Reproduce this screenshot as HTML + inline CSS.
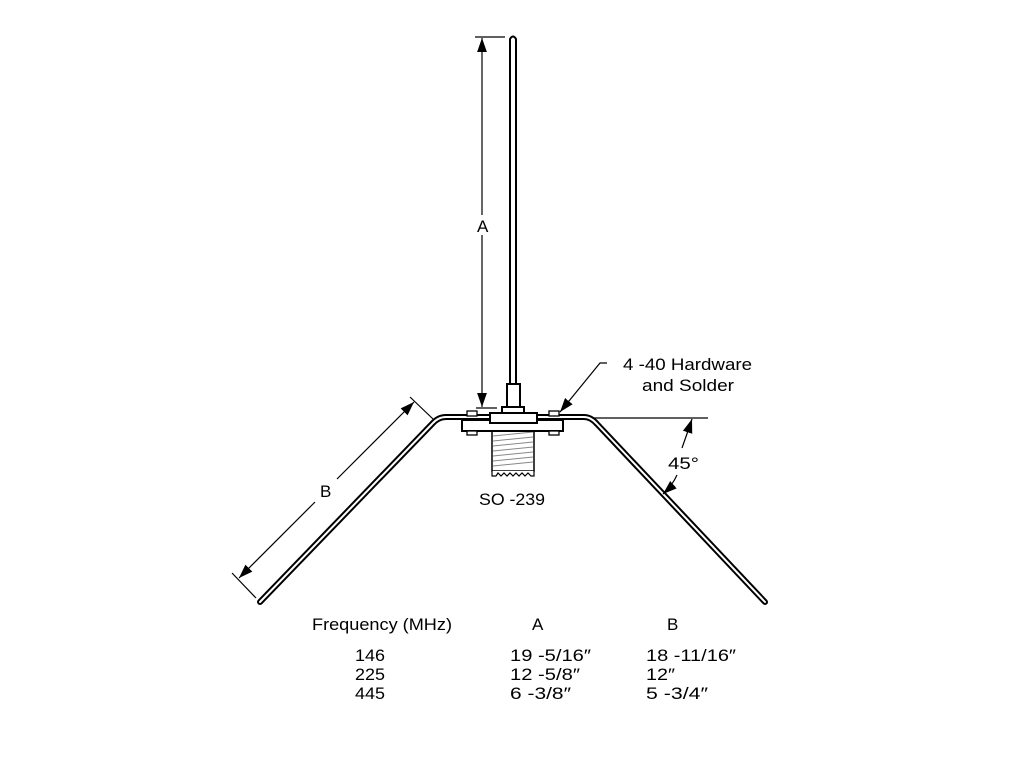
<!DOCTYPE html>
<html><head><style>html,body{margin:0;padding:0;background:#fff}svg{display:block}text{font-family:"Liberation Sans",sans-serif;font-size:17px;fill:#000}</style></head>
<body>
<svg width="1024" height="768" viewBox="0 0 1024 768" xmlns="http://www.w3.org/2000/svg">
<defs>
<marker id="ar" viewBox="0 0 10 10" refX="10" refY="5" markerWidth="14" markerHeight="14" markerUnits="userSpaceOnUse" orient="auto"><path d="M0,1.5 L10,5 L0,8.5 Z" fill="#000"/></marker>
</defs>
<path d="M510,386 L510,39 Q513,34 516,39 L516,386" fill="#fff" stroke="#000" stroke-width="2"/>
<rect x="507" y="384" width="13" height="23" fill="#fff" stroke="#000" stroke-width="2"/>
<rect x="502" y="407" width="22" height="6" fill="#fff" stroke="#000" stroke-width="2"/>
<rect x="492" y="431" width="42" height="40" fill="#fff" stroke="#000" stroke-width="1.5"/>
<g stroke="#888" stroke-width="1">
<line x1="493" y1="436" x2="533" y2="432"/><line x1="493" y1="441" x2="533" y2="437"/><line x1="493" y1="446" x2="533" y2="442"/><line x1="493" y1="451" x2="533" y2="447"/><line x1="493" y1="456" x2="533" y2="452"/><line x1="493" y1="461" x2="533" y2="457"/><line x1="493" y1="466" x2="533" y2="462"/>
</g>
<path d="M492,471 L492,476 L496,476 L498,473 L501,476 L504,473 L507,476 L510,473 L513,476 L516,473 L519,476 L522,473 L525,476 L528,473 L531,476 L534,476 L534,471" fill="#fff" stroke="#000" stroke-width="1.2"/>
<g fill="none" stroke-linecap="round" stroke-linejoin="round">
<path d="M260,602 L432,424 Q438,417 446,417 L490,417" stroke="#000" stroke-width="6"/>
<path d="M260,602 L432,424 Q438,417 446,417 L490,417" stroke="#fff" stroke-width="2"/>
<path d="M537,417 L584,417 Q591,417 597,424 L765,602" stroke="#000" stroke-width="6"/>
<path d="M537,417 L584,417 Q591,417 597,424 L765,602" stroke="#fff" stroke-width="2"/>
</g>
<rect x="462" y="420" width="101" height="11" fill="#fff" stroke="#000" stroke-width="2"/>
<rect x="490" y="413" width="47" height="10" fill="#fff" stroke="#000" stroke-width="2"/>
<rect x="467" y="411" width="10" height="5" fill="#fff" stroke="#000" stroke-width="1.3"/>
<rect x="549" y="411" width="10" height="5" fill="#fff" stroke="#000" stroke-width="1.3"/>
<rect x="467" y="431" width="10" height="4" fill="#fff" stroke="#000" stroke-width="1.3"/>
<rect x="549" y="431" width="10" height="4" fill="#fff" stroke="#000" stroke-width="1.3"/>
<g stroke="#000" stroke-width="1.2" fill="none">
<line x1="475" y1="37" x2="505" y2="37"/>
<line x1="476" y1="408" x2="497" y2="408"/>
<line x1="482" y1="215" x2="482" y2="38" marker-end="url(#ar)"/>
<line x1="482" y1="235" x2="482" y2="407" marker-end="url(#ar)"/>
<line x1="232" y1="573" x2="256" y2="598"/>
<line x1="410" y1="397" x2="433" y2="419"/>
<line x1="315" y1="502" x2="239" y2="578" marker-end="url(#ar)"/>
<line x1="337" y1="479" x2="414" y2="402" marker-end="url(#ar)"/>
<polyline points="607,363 600,363 560,412" marker-end="url(#ar)"/>
<line x1="592" y1="418" x2="708" y2="418"/>
<path d="M682,448 Q687,434 692,419" marker-end="url(#ar)"/>
<path d="M677,475 Q672,486 663,494" marker-end="url(#ar)"/>
</g>
<text x="477" y="232">A</text>
<text x="320" y="497">B</text>
<text x="623" y="370" textLength="129" lengthAdjust="spacingAndGlyphs">4 -40 Hardware</text>
<text x="642" y="391" textLength="92" lengthAdjust="spacingAndGlyphs">and Solder</text>
<text x="668" y="469" textLength="31" lengthAdjust="spacingAndGlyphs">45°</text>
<text x="479" y="505" textLength="66" lengthAdjust="spacingAndGlyphs">SO -239</text>
<text x="312" y="630" textLength="140" lengthAdjust="spacingAndGlyphs">Frequency (MHz)</text>
<text x="532" y="630">A</text>
<text x="667" y="630">B</text>
<text x="355" y="661" textLength="30" lengthAdjust="spacingAndGlyphs">146</text>
<text x="355" y="680" textLength="30" lengthAdjust="spacingAndGlyphs">225</text>
<text x="355" y="699" textLength="30" lengthAdjust="spacingAndGlyphs">445</text>
<text x="510" y="661" textLength="81" lengthAdjust="spacingAndGlyphs">19 -5/16″</text>
<text x="510" y="680" textLength="70" lengthAdjust="spacingAndGlyphs">12 -5/8″</text>
<text x="510" y="699" textLength="61" lengthAdjust="spacingAndGlyphs">6 -3/8″</text>
<text x="646" y="661" textLength="90" lengthAdjust="spacingAndGlyphs">18 -11/16″</text>
<text x="646" y="680" textLength="29" lengthAdjust="spacingAndGlyphs">12″</text>
<text x="646" y="699" textLength="62" lengthAdjust="spacingAndGlyphs">5 -3/4″</text>
</svg>
</body></html>
